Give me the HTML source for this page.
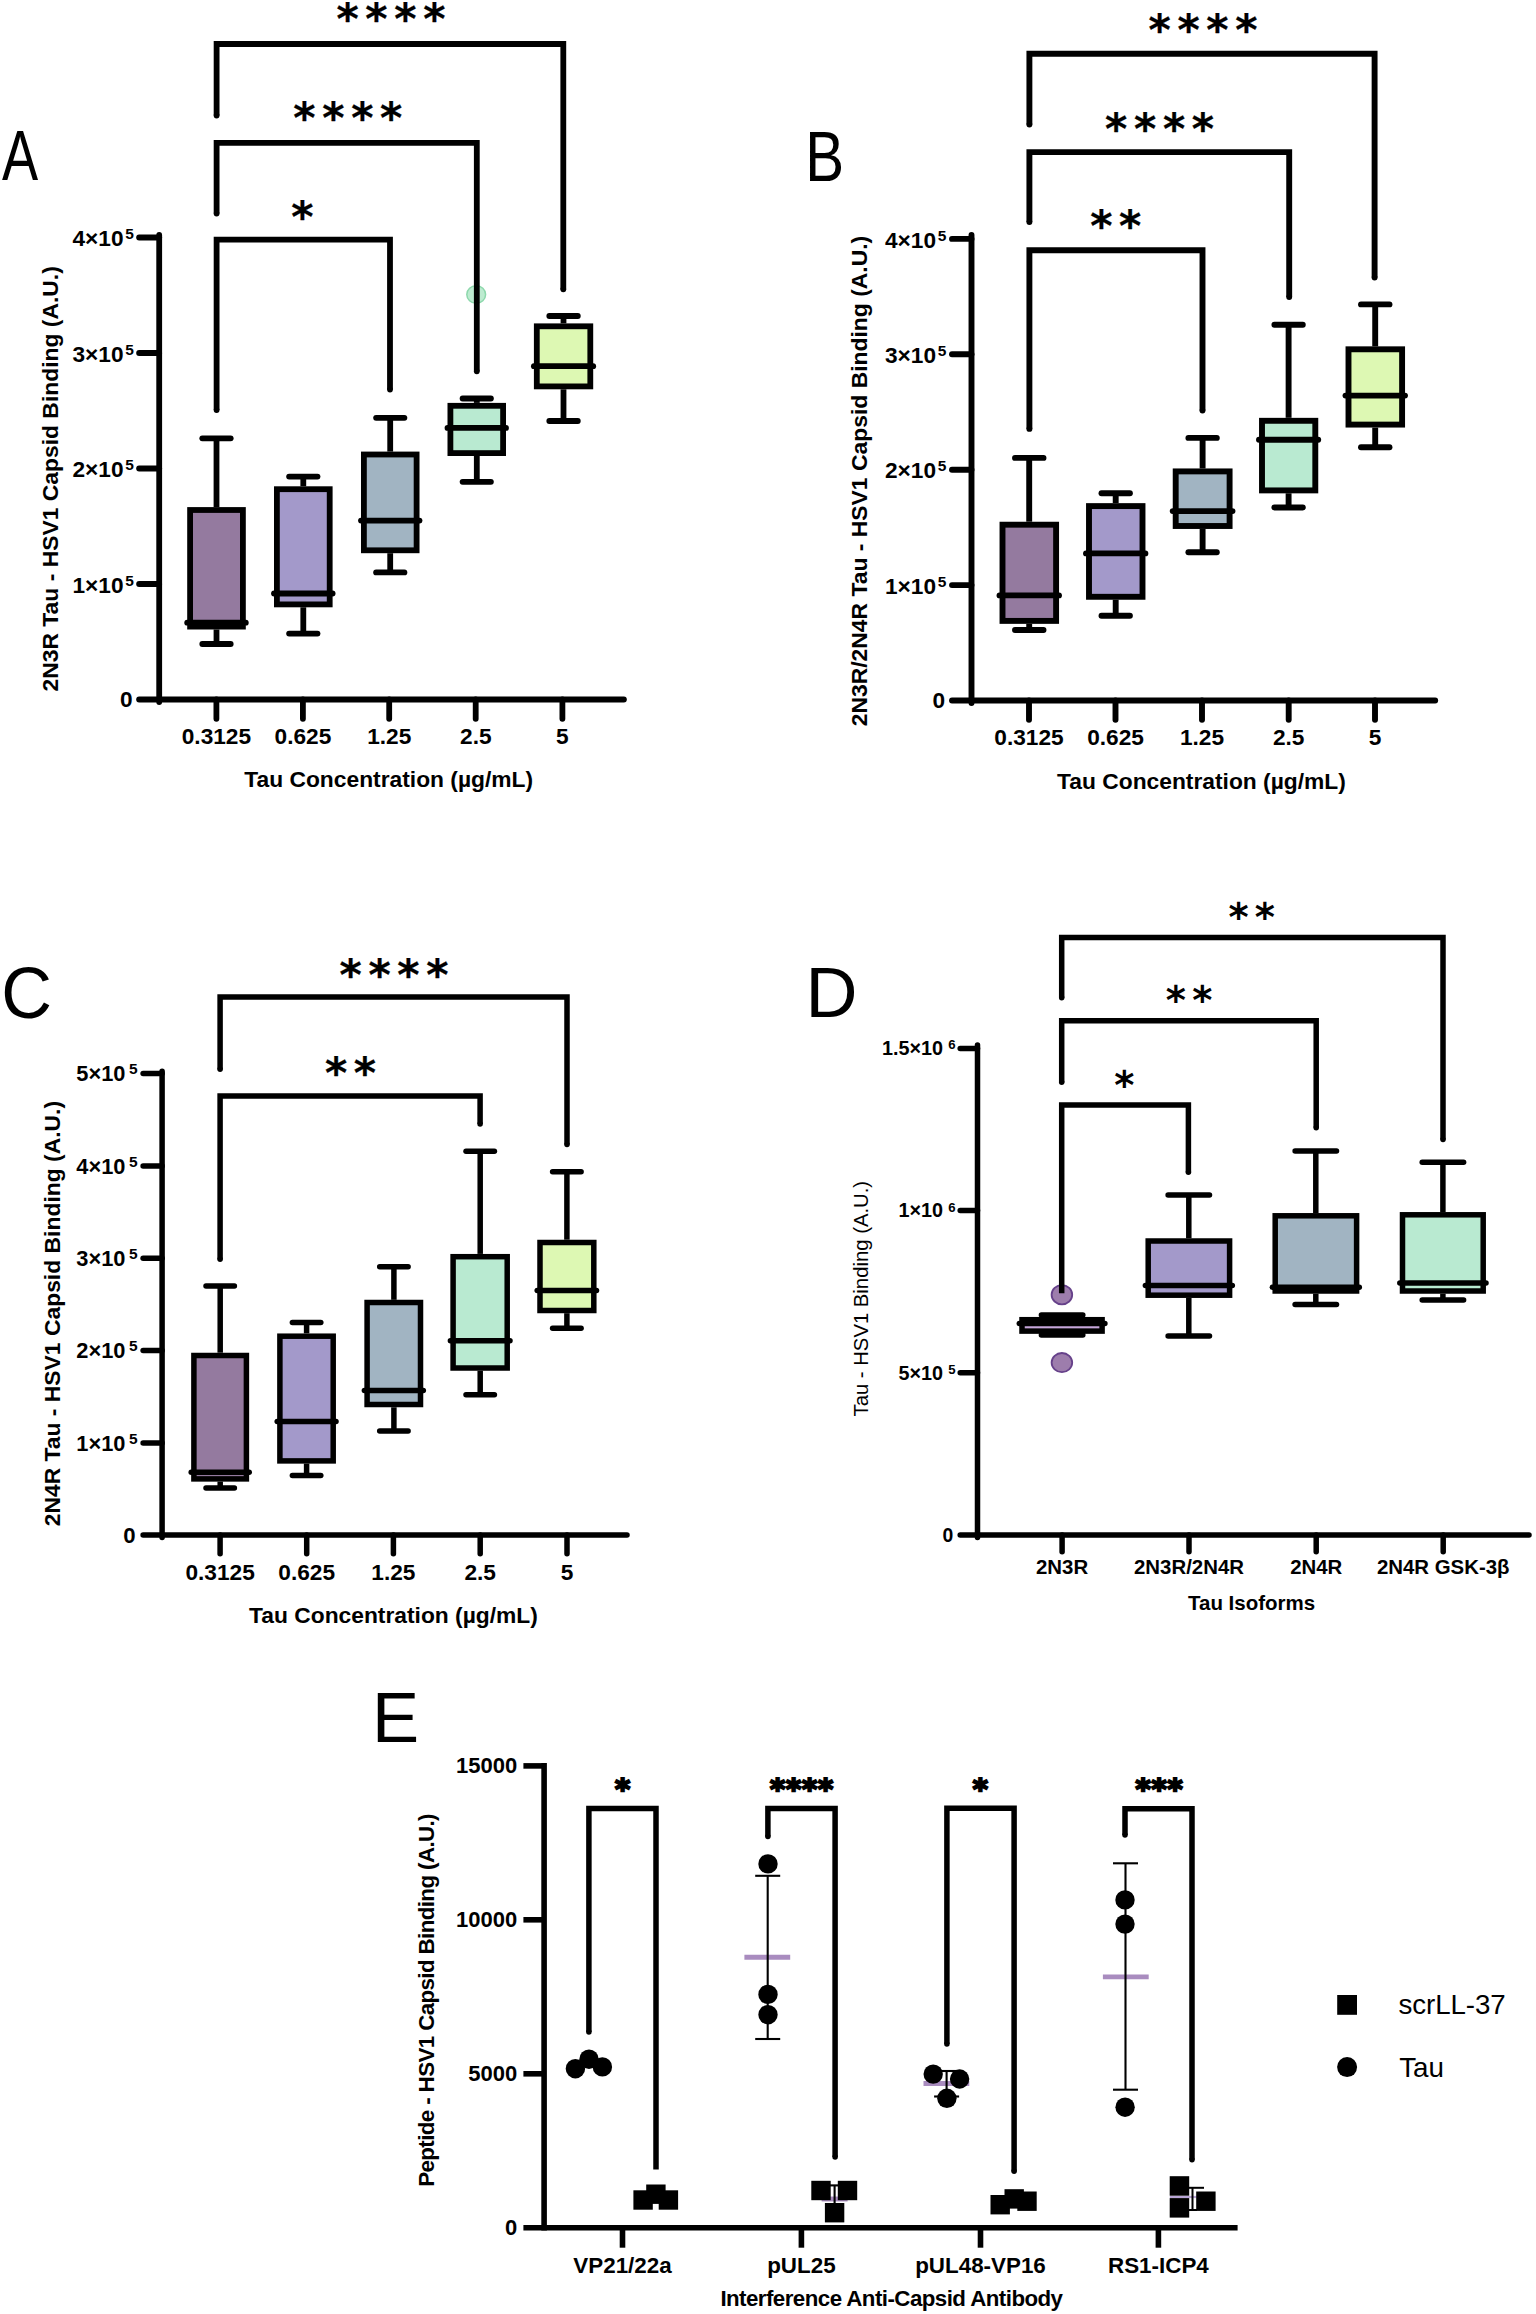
<!DOCTYPE html>
<html lang="en"><head><meta charset="utf-8"><title>Tau - HSV1 capsid binding figure</title>
<style>html,body{margin:0;padding:0;background:#fff}svg{display:block}text{fill:#000}</style></head>
<body><svg width="1536" height="2314" viewBox="0 0 1536 2314">
<rect width="1536" height="2314" fill="#fff"/>
<line x1="159.2" y1="235.0" x2="159.2" y2="702.0" stroke="#000" stroke-width="5.8" stroke-linecap="round"/>
<line x1="139.1" y1="699.5" x2="623.9" y2="699.5" stroke="#000" stroke-width="5.8" stroke-linecap="round"/>
<line x1="139.1" y1="584.0" x2="159.2" y2="584.0" stroke="#000" stroke-width="5.8" stroke-linecap="round"/>
<line x1="139.1" y1="468.5" x2="159.2" y2="468.5" stroke="#000" stroke-width="5.8" stroke-linecap="round"/>
<line x1="139.1" y1="353.0" x2="159.2" y2="353.0" stroke="#000" stroke-width="5.8" stroke-linecap="round"/>
<line x1="139.1" y1="237.5" x2="159.2" y2="237.5" stroke="#000" stroke-width="5.8" stroke-linecap="round"/>
<line x1="216.4" y1="699.5" x2="216.4" y2="718.8" stroke="#000" stroke-width="5.8" stroke-linecap="round"/>
<line x1="302.9" y1="699.5" x2="302.9" y2="718.8" stroke="#000" stroke-width="5.8" stroke-linecap="round"/>
<line x1="389.2" y1="699.5" x2="389.2" y2="718.8" stroke="#000" stroke-width="5.8" stroke-linecap="round"/>
<line x1="475.7" y1="699.5" x2="475.7" y2="718.8" stroke="#000" stroke-width="5.8" stroke-linecap="round"/>
<line x1="562.4" y1="699.5" x2="562.4" y2="718.8" stroke="#000" stroke-width="5.8" stroke-linecap="round"/>
<ellipse cx="476.2" cy="294.5" rx="9.4" ry="8.8" fill="#bdebd0" stroke="#8dd8ac" stroke-width="1.5"/>
<path d="M216.6 115.5V44.0H563.3V289.3" fill="none" stroke="#000" stroke-width="5.8" stroke-linecap="butt" stroke-linejoin="miter"/>
<circle cx="216.6" cy="115.5" r="2.9" fill="#000"/>
<circle cx="563.3" cy="289.3" r="2.9" fill="#000"/>
<path d="M216.6 213.6V142.9H476.8V371.3" fill="none" stroke="#000" stroke-width="5.8" stroke-linecap="butt" stroke-linejoin="miter"/>
<circle cx="216.6" cy="213.6" r="2.9" fill="#000"/>
<circle cx="476.8" cy="371.3" r="2.9" fill="#000"/>
<path d="M216.6 410.1V239.6H390.0V389.6" fill="none" stroke="#000" stroke-width="5.8" stroke-linecap="butt" stroke-linejoin="miter"/>
<circle cx="216.6" cy="410.1" r="2.9" fill="#000"/>
<circle cx="390.0" cy="389.6" r="2.9" fill="#000"/>
<line x1="216.5" y1="438.3" x2="216.5" y2="507.1" stroke="#000" stroke-width="5.8" stroke-linecap="butt"/>
<line x1="216.5" y1="629.5" x2="216.5" y2="644.0" stroke="#000" stroke-width="5.8" stroke-linecap="butt"/>
<line x1="202.3" y1="438.3" x2="230.7" y2="438.3" stroke="#000" stroke-width="5.8" stroke-linecap="round"/>
<line x1="202.3" y1="644.0" x2="230.7" y2="644.0" stroke="#000" stroke-width="5.8" stroke-linecap="round"/>
<rect x="190.1" y="510.0" width="52.8" height="116.6" fill="#947a9f" stroke="#000" stroke-width="5.8"/>
<line x1="187.2" y1="622.7" x2="245.8" y2="622.7" stroke="#000" stroke-width="5.8" stroke-linecap="round"/>
<line x1="303.3" y1="476.6" x2="303.3" y2="486.3" stroke="#000" stroke-width="5.8" stroke-linecap="butt"/>
<line x1="303.3" y1="607.3" x2="303.3" y2="633.6" stroke="#000" stroke-width="5.8" stroke-linecap="butt"/>
<line x1="289.1" y1="476.6" x2="317.5" y2="476.6" stroke="#000" stroke-width="5.8" stroke-linecap="round"/>
<line x1="289.1" y1="633.6" x2="317.5" y2="633.6" stroke="#000" stroke-width="5.8" stroke-linecap="round"/>
<rect x="276.9" y="489.2" width="52.8" height="115.2" fill="#a399ca" stroke="#000" stroke-width="5.8"/>
<line x1="274.0" y1="593.5" x2="332.6" y2="593.5" stroke="#000" stroke-width="5.8" stroke-linecap="round"/>
<line x1="390.2" y1="417.8" x2="390.2" y2="451.6" stroke="#000" stroke-width="5.8" stroke-linecap="butt"/>
<line x1="390.2" y1="553.2" x2="390.2" y2="572.4" stroke="#000" stroke-width="5.8" stroke-linecap="butt"/>
<line x1="376.1" y1="417.8" x2="404.4" y2="417.8" stroke="#000" stroke-width="5.8" stroke-linecap="round"/>
<line x1="376.1" y1="572.4" x2="404.4" y2="572.4" stroke="#000" stroke-width="5.8" stroke-linecap="round"/>
<rect x="363.9" y="454.5" width="52.7" height="95.8" fill="#a1b4c2" stroke="#000" stroke-width="5.8"/>
<line x1="361.0" y1="520.6" x2="419.5" y2="520.6" stroke="#000" stroke-width="5.8" stroke-linecap="round"/>
<line x1="476.8" y1="398.5" x2="476.8" y2="402.9" stroke="#000" stroke-width="5.8" stroke-linecap="butt"/>
<line x1="476.8" y1="456.0" x2="476.8" y2="481.8" stroke="#000" stroke-width="5.8" stroke-linecap="butt"/>
<line x1="462.6" y1="398.5" x2="490.9" y2="398.5" stroke="#000" stroke-width="5.8" stroke-linecap="round"/>
<line x1="462.6" y1="481.8" x2="490.9" y2="481.8" stroke="#000" stroke-width="5.8" stroke-linecap="round"/>
<rect x="450.4" y="405.8" width="52.7" height="47.3" fill="#b9ead1" stroke="#000" stroke-width="5.8"/>
<line x1="447.5" y1="427.9" x2="506.0" y2="427.9" stroke="#000" stroke-width="5.8" stroke-linecap="round"/>
<line x1="563.5" y1="316.0" x2="563.5" y2="323.4" stroke="#000" stroke-width="5.8" stroke-linecap="butt"/>
<line x1="563.5" y1="389.3" x2="563.5" y2="421.0" stroke="#000" stroke-width="5.8" stroke-linecap="butt"/>
<line x1="549.3" y1="316.0" x2="577.8" y2="316.0" stroke="#000" stroke-width="5.8" stroke-linecap="round"/>
<line x1="549.3" y1="421.0" x2="577.8" y2="421.0" stroke="#000" stroke-width="5.8" stroke-linecap="round"/>
<rect x="536.8" y="326.3" width="53.5" height="60.1" fill="#ddf8b3" stroke="#000" stroke-width="5.8"/>
<line x1="533.9" y1="366.2" x2="593.2" y2="366.2" stroke="#000" stroke-width="5.8" stroke-linecap="round"/>
<text x="336.4" y="34.3" font-family="'DejaVu Sans', sans-serif" font-size="42.5" font-weight="bold" letter-spacing="6.7" stroke="#000" stroke-width="0.3" stroke-linejoin="round">****</text>
<text x="293.3" y="132.6" font-family="'DejaVu Sans', sans-serif" font-size="42.5" font-weight="bold" letter-spacing="6.7" stroke="#000" stroke-width="0.3" stroke-linejoin="round">****</text>
<text x="291.2" y="231.5" font-family="'DejaVu Sans', sans-serif" font-size="42.5" font-weight="bold" letter-spacing="6.7" stroke="#000" stroke-width="0.3" stroke-linejoin="round">*</text>
<text x="133.8" y="246.2" font-family="'Liberation Sans', sans-serif" font-size="22.67" font-weight="bold" text-anchor="end" letter-spacing="0">4×10<tspan font-size="15.5" dy="-7.1" dx="1.6">5</tspan></text>
<text x="133.8" y="361.7" font-family="'Liberation Sans', sans-serif" font-size="22.67" font-weight="bold" text-anchor="end" letter-spacing="0">3×10<tspan font-size="15.5" dy="-7.1" dx="1.6">5</tspan></text>
<text x="133.8" y="477.2" font-family="'Liberation Sans', sans-serif" font-size="22.67" font-weight="bold" text-anchor="end" letter-spacing="0">2×10<tspan font-size="15.5" dy="-7.1" dx="1.6">5</tspan></text>
<text x="133.8" y="592.7" font-family="'Liberation Sans', sans-serif" font-size="22.67" font-weight="bold" text-anchor="end" letter-spacing="0">1×10<tspan font-size="15.5" dy="-7.1" dx="1.6">5</tspan></text>
<text x="132.5" y="707.0" font-family="'Liberation Sans', sans-serif" font-size="22.67" font-weight="bold" text-anchor="end">0</text>
<text x="216.4" y="743.8" font-family="'Liberation Sans', sans-serif" font-size="22.67" font-weight="bold" text-anchor="middle">0.3125</text>
<text x="302.9" y="743.8" font-family="'Liberation Sans', sans-serif" font-size="22.67" font-weight="bold" text-anchor="middle">0.625</text>
<text x="389.2" y="743.8" font-family="'Liberation Sans', sans-serif" font-size="22.67" font-weight="bold" text-anchor="middle">1.25</text>
<text x="475.8" y="743.8" font-family="'Liberation Sans', sans-serif" font-size="22.67" font-weight="bold" text-anchor="middle">2.5</text>
<text x="562.3" y="743.8" font-family="'Liberation Sans', sans-serif" font-size="22.67" font-weight="bold" text-anchor="middle">5</text>
<text x="388.7" y="787.3" font-family="'Liberation Sans', sans-serif" font-size="22.8" font-weight="bold" text-anchor="middle">Tau Concentration (µg/mL)</text>
<text x="57.9" y="691.5" font-family="'Liberation Sans', sans-serif" font-size="22.88" font-weight="bold" text-anchor="start" transform="rotate(-90 57.9 691.5)">2N3R Tau - HSV1 Capsid Binding (A.U.)</text>
<line x1="971.5" y1="235.0" x2="971.5" y2="703.0" stroke="#000" stroke-width="5.9" stroke-linecap="round"/>
<line x1="952.0" y1="700.5" x2="1435.2" y2="700.5" stroke="#000" stroke-width="5.9" stroke-linecap="round"/>
<line x1="952.0" y1="585.1" x2="971.5" y2="585.1" stroke="#000" stroke-width="5.9" stroke-linecap="round"/>
<line x1="952.0" y1="469.7" x2="971.5" y2="469.7" stroke="#000" stroke-width="5.9" stroke-linecap="round"/>
<line x1="952.0" y1="354.3" x2="971.5" y2="354.3" stroke="#000" stroke-width="5.9" stroke-linecap="round"/>
<line x1="952.0" y1="238.9" x2="971.5" y2="238.9" stroke="#000" stroke-width="5.9" stroke-linecap="round"/>
<line x1="1029.0" y1="700.5" x2="1029.0" y2="719.8" stroke="#000" stroke-width="5.9" stroke-linecap="round"/>
<line x1="1115.5" y1="700.5" x2="1115.5" y2="719.8" stroke="#000" stroke-width="5.9" stroke-linecap="round"/>
<line x1="1202.0" y1="700.5" x2="1202.0" y2="719.8" stroke="#000" stroke-width="5.9" stroke-linecap="round"/>
<line x1="1288.7" y1="700.5" x2="1288.7" y2="719.8" stroke="#000" stroke-width="5.9" stroke-linecap="round"/>
<line x1="1375.0" y1="700.5" x2="1375.0" y2="719.8" stroke="#000" stroke-width="5.9" stroke-linecap="round"/>
<path d="M1029.4 124.6V53.8H1374.6V277.6" fill="none" stroke="#000" stroke-width="5.9" stroke-linecap="butt" stroke-linejoin="miter"/>
<circle cx="1029.4" cy="124.6" r="2.95" fill="#000"/>
<circle cx="1374.6" cy="277.6" r="2.95" fill="#000"/>
<path d="M1029.4 222.1V152.1H1289.2V297.1" fill="none" stroke="#000" stroke-width="5.9" stroke-linecap="butt" stroke-linejoin="miter"/>
<circle cx="1029.4" cy="222.1" r="2.95" fill="#000"/>
<circle cx="1289.2" cy="297.1" r="2.95" fill="#000"/>
<path d="M1029.4 428.9V250.3H1202.5V410.6" fill="none" stroke="#000" stroke-width="5.9" stroke-linecap="butt" stroke-linejoin="miter"/>
<circle cx="1029.4" cy="428.9" r="2.95" fill="#000"/>
<circle cx="1202.5" cy="410.6" r="2.95" fill="#000"/>
<line x1="1029.2" y1="457.9" x2="1029.2" y2="521.7" stroke="#000" stroke-width="5.9" stroke-linecap="butt"/>
<line x1="1029.2" y1="623.8" x2="1029.2" y2="630.0" stroke="#000" stroke-width="5.9" stroke-linecap="butt"/>
<line x1="1015.0" y1="457.9" x2="1043.5" y2="457.9" stroke="#000" stroke-width="5.9" stroke-linecap="round"/>
<line x1="1015.0" y1="630.0" x2="1043.5" y2="630.0" stroke="#000" stroke-width="5.9" stroke-linecap="round"/>
<rect x="1002.5" y="524.7" width="53.6" height="96.2" fill="#947a9f" stroke="#000" stroke-width="5.9"/>
<line x1="999.5" y1="595.4" x2="1059.0" y2="595.4" stroke="#000" stroke-width="5.9" stroke-linecap="round"/>
<line x1="1115.7" y1="493.3" x2="1115.7" y2="503.1" stroke="#000" stroke-width="5.9" stroke-linecap="butt"/>
<line x1="1115.7" y1="599.7" x2="1115.7" y2="615.8" stroke="#000" stroke-width="5.9" stroke-linecap="butt"/>
<line x1="1101.5" y1="493.3" x2="1129.9" y2="493.3" stroke="#000" stroke-width="5.9" stroke-linecap="round"/>
<line x1="1101.5" y1="615.8" x2="1129.9" y2="615.8" stroke="#000" stroke-width="5.9" stroke-linecap="round"/>
<rect x="1089.0" y="506.1" width="53.5" height="90.7" fill="#a399ca" stroke="#000" stroke-width="5.9"/>
<line x1="1086.0" y1="553.4" x2="1145.4" y2="553.4" stroke="#000" stroke-width="5.9" stroke-linecap="round"/>
<line x1="1202.6" y1="437.9" x2="1202.6" y2="468.5" stroke="#000" stroke-width="5.9" stroke-linecap="butt"/>
<line x1="1202.6" y1="529.0" x2="1202.6" y2="552.3" stroke="#000" stroke-width="5.9" stroke-linecap="butt"/>
<line x1="1188.4" y1="437.9" x2="1216.8" y2="437.9" stroke="#000" stroke-width="5.9" stroke-linecap="round"/>
<line x1="1188.4" y1="552.3" x2="1216.8" y2="552.3" stroke="#000" stroke-width="5.9" stroke-linecap="round"/>
<rect x="1175.7" y="471.4" width="53.9" height="54.6" fill="#a1b4c2" stroke="#000" stroke-width="5.9"/>
<line x1="1172.7" y1="511.1" x2="1232.5" y2="511.1" stroke="#000" stroke-width="5.9" stroke-linecap="round"/>
<line x1="1288.6" y1="324.8" x2="1288.6" y2="417.8" stroke="#000" stroke-width="5.9" stroke-linecap="butt"/>
<line x1="1288.6" y1="493.3" x2="1288.6" y2="507.5" stroke="#000" stroke-width="5.9" stroke-linecap="butt"/>
<line x1="1274.4" y1="324.8" x2="1302.8" y2="324.8" stroke="#000" stroke-width="5.9" stroke-linecap="round"/>
<line x1="1274.4" y1="507.5" x2="1302.8" y2="507.5" stroke="#000" stroke-width="5.9" stroke-linecap="round"/>
<rect x="1262.0" y="420.8" width="53.3" height="69.6" fill="#b9ead1" stroke="#000" stroke-width="5.9"/>
<line x1="1259.0" y1="439.7" x2="1318.2" y2="439.7" stroke="#000" stroke-width="5.9" stroke-linecap="round"/>
<line x1="1375.2" y1="304.4" x2="1375.2" y2="346.4" stroke="#000" stroke-width="5.9" stroke-linecap="butt"/>
<line x1="1375.2" y1="427.6" x2="1375.2" y2="447.3" stroke="#000" stroke-width="5.9" stroke-linecap="butt"/>
<line x1="1361.0" y1="304.4" x2="1389.5" y2="304.4" stroke="#000" stroke-width="5.9" stroke-linecap="round"/>
<line x1="1361.0" y1="447.3" x2="1389.5" y2="447.3" stroke="#000" stroke-width="5.9" stroke-linecap="round"/>
<rect x="1348.5" y="349.3" width="53.6" height="75.3" fill="#ddf8b3" stroke="#000" stroke-width="5.9"/>
<line x1="1345.5" y1="395.6" x2="1405.0" y2="395.6" stroke="#000" stroke-width="5.9" stroke-linecap="round"/>
<text x="1148.5" y="45.3" font-family="'DejaVu Sans', sans-serif" font-size="42.5" font-weight="bold" letter-spacing="6.7" stroke="#000" stroke-width="0.3" stroke-linejoin="round">****</text>
<text x="1105.1" y="143.8" font-family="'DejaVu Sans', sans-serif" font-size="42.5" font-weight="bold" letter-spacing="6.7" stroke="#000" stroke-width="0.3" stroke-linejoin="round">****</text>
<text x="1090.2" y="240.8" font-family="'DejaVu Sans', sans-serif" font-size="42.5" font-weight="bold" letter-spacing="6.7" stroke="#000" stroke-width="0.3" stroke-linejoin="round">**</text>
<text x="946.3" y="247.6" font-family="'Liberation Sans', sans-serif" font-size="22.67" font-weight="bold" text-anchor="end" letter-spacing="0">4×10<tspan font-size="15.5" dy="-7.1" dx="1.6">5</tspan></text>
<text x="946.3" y="363.0" font-family="'Liberation Sans', sans-serif" font-size="22.67" font-weight="bold" text-anchor="end" letter-spacing="0">3×10<tspan font-size="15.5" dy="-7.1" dx="1.6">5</tspan></text>
<text x="946.3" y="478.4" font-family="'Liberation Sans', sans-serif" font-size="22.67" font-weight="bold" text-anchor="end" letter-spacing="0">2×10<tspan font-size="15.5" dy="-7.1" dx="1.6">5</tspan></text>
<text x="946.3" y="593.8" font-family="'Liberation Sans', sans-serif" font-size="22.67" font-weight="bold" text-anchor="end" letter-spacing="0">1×10<tspan font-size="15.5" dy="-7.1" dx="1.6">5</tspan></text>
<text x="945.0" y="707.9" font-family="'Liberation Sans', sans-serif" font-size="22.67" font-weight="bold" text-anchor="end">0</text>
<text x="1029.0" y="744.8" font-family="'Liberation Sans', sans-serif" font-size="22.67" font-weight="bold" text-anchor="middle">0.3125</text>
<text x="1115.5" y="744.8" font-family="'Liberation Sans', sans-serif" font-size="22.67" font-weight="bold" text-anchor="middle">0.625</text>
<text x="1202.0" y="744.8" font-family="'Liberation Sans', sans-serif" font-size="22.67" font-weight="bold" text-anchor="middle">1.25</text>
<text x="1288.7" y="744.8" font-family="'Liberation Sans', sans-serif" font-size="22.67" font-weight="bold" text-anchor="middle">2.5</text>
<text x="1375.0" y="744.8" font-family="'Liberation Sans', sans-serif" font-size="22.67" font-weight="bold" text-anchor="middle">5</text>
<text x="1201.5" y="788.6" font-family="'Liberation Sans', sans-serif" font-size="22.8" font-weight="bold" text-anchor="middle">Tau Concentration (µg/mL)</text>
<text x="866.9" y="726.3" font-family="'Liberation Sans', sans-serif" font-size="22.9" font-weight="bold" text-anchor="start" transform="rotate(-90 866.9 726.3)">2N3R/2N4R Tau - HSV1 Capsid Binding (A.U.)</text>
<line x1="162.1" y1="1071.2" x2="162.1" y2="1537.4" stroke="#000" stroke-width="5.5" stroke-linecap="round"/>
<line x1="143.1" y1="1534.9" x2="627.0" y2="1534.9" stroke="#000" stroke-width="5.5" stroke-linecap="round"/>
<line x1="143.1" y1="1443.0" x2="162.1" y2="1443.0" stroke="#000" stroke-width="5.5" stroke-linecap="round"/>
<line x1="143.1" y1="1350.6" x2="162.1" y2="1350.6" stroke="#000" stroke-width="5.5" stroke-linecap="round"/>
<line x1="143.1" y1="1258.3" x2="162.1" y2="1258.3" stroke="#000" stroke-width="5.5" stroke-linecap="round"/>
<line x1="143.1" y1="1166.0" x2="162.1" y2="1166.0" stroke="#000" stroke-width="5.5" stroke-linecap="round"/>
<line x1="143.1" y1="1073.6" x2="162.1" y2="1073.6" stroke="#000" stroke-width="5.5" stroke-linecap="round"/>
<line x1="220.1" y1="1534.9" x2="220.1" y2="1553.8" stroke="#000" stroke-width="5.5" stroke-linecap="round"/>
<line x1="306.7" y1="1534.9" x2="306.7" y2="1553.8" stroke="#000" stroke-width="5.5" stroke-linecap="round"/>
<line x1="393.4" y1="1534.9" x2="393.4" y2="1553.8" stroke="#000" stroke-width="5.5" stroke-linecap="round"/>
<line x1="480.2" y1="1534.9" x2="480.2" y2="1553.8" stroke="#000" stroke-width="5.5" stroke-linecap="round"/>
<line x1="567.0" y1="1534.9" x2="567.0" y2="1553.8" stroke="#000" stroke-width="5.5" stroke-linecap="round"/>
<path d="M220.1 1069.2V997.0H567.0V1144.6" fill="none" stroke="#000" stroke-width="5.5" stroke-linecap="butt" stroke-linejoin="miter"/>
<circle cx="220.1" cy="1069.2" r="2.75" fill="#000"/>
<circle cx="567.0" cy="1144.6" r="2.75" fill="#000"/>
<path d="M220.1 1259.3V1095.9H480.1V1123.9" fill="none" stroke="#000" stroke-width="5.5" stroke-linecap="butt" stroke-linejoin="miter"/>
<circle cx="220.1" cy="1259.3" r="2.75" fill="#000"/>
<circle cx="480.1" cy="1123.9" r="2.75" fill="#000"/>
<line x1="220.2" y1="1286.0" x2="220.2" y2="1352.7" stroke="#000" stroke-width="5.5" stroke-linecap="butt"/>
<line x1="220.2" y1="1481.6" x2="220.2" y2="1488.0" stroke="#000" stroke-width="5.5" stroke-linecap="butt"/>
<line x1="206.0" y1="1286.0" x2="234.4" y2="1286.0" stroke="#000" stroke-width="5.5" stroke-linecap="round"/>
<line x1="206.0" y1="1488.0" x2="234.4" y2="1488.0" stroke="#000" stroke-width="5.5" stroke-linecap="round"/>
<rect x="193.9" y="1355.5" width="52.5" height="123.4" fill="#947a9f" stroke="#000" stroke-width="5.5"/>
<line x1="191.2" y1="1472.2" x2="249.2" y2="1472.2" stroke="#000" stroke-width="5.5" stroke-linecap="round"/>
<line x1="306.6" y1="1322.6" x2="306.6" y2="1333.4" stroke="#000" stroke-width="5.5" stroke-linecap="butt"/>
<line x1="306.6" y1="1463.6" x2="306.6" y2="1475.6" stroke="#000" stroke-width="5.5" stroke-linecap="butt"/>
<line x1="292.4" y1="1322.6" x2="320.8" y2="1322.6" stroke="#000" stroke-width="5.5" stroke-linecap="round"/>
<line x1="292.4" y1="1475.6" x2="320.8" y2="1475.6" stroke="#000" stroke-width="5.5" stroke-linecap="round"/>
<rect x="279.9" y="1336.2" width="53.3" height="124.7" fill="#a399ca" stroke="#000" stroke-width="5.5"/>
<line x1="277.2" y1="1421.5" x2="336.0" y2="1421.5" stroke="#000" stroke-width="5.5" stroke-linecap="round"/>
<line x1="393.9" y1="1266.8" x2="393.9" y2="1299.8" stroke="#000" stroke-width="5.5" stroke-linecap="butt"/>
<line x1="393.9" y1="1407.3" x2="393.9" y2="1430.9" stroke="#000" stroke-width="5.5" stroke-linecap="butt"/>
<line x1="379.7" y1="1266.8" x2="408.1" y2="1266.8" stroke="#000" stroke-width="5.5" stroke-linecap="round"/>
<line x1="379.7" y1="1430.9" x2="408.1" y2="1430.9" stroke="#000" stroke-width="5.5" stroke-linecap="round"/>
<rect x="367.1" y="1302.5" width="53.4" height="102.0" fill="#a1b4c2" stroke="#000" stroke-width="5.5"/>
<line x1="364.4" y1="1390.5" x2="423.3" y2="1390.5" stroke="#000" stroke-width="5.5" stroke-linecap="round"/>
<line x1="480.2" y1="1151.2" x2="480.2" y2="1253.9" stroke="#000" stroke-width="5.5" stroke-linecap="butt"/>
<line x1="480.2" y1="1370.7" x2="480.2" y2="1394.8" stroke="#000" stroke-width="5.5" stroke-linecap="butt"/>
<line x1="466.0" y1="1151.2" x2="494.4" y2="1151.2" stroke="#000" stroke-width="5.5" stroke-linecap="round"/>
<line x1="466.0" y1="1394.8" x2="494.4" y2="1394.8" stroke="#000" stroke-width="5.5" stroke-linecap="round"/>
<rect x="453.1" y="1256.7" width="54.1" height="111.3" fill="#b9ead1" stroke="#000" stroke-width="5.5"/>
<line x1="450.4" y1="1340.7" x2="510.0" y2="1340.7" stroke="#000" stroke-width="5.5" stroke-linecap="round"/>
<line x1="566.9" y1="1171.8" x2="566.9" y2="1239.7" stroke="#000" stroke-width="5.5" stroke-linecap="butt"/>
<line x1="566.9" y1="1313.2" x2="566.9" y2="1328.2" stroke="#000" stroke-width="5.5" stroke-linecap="butt"/>
<line x1="552.6" y1="1171.8" x2="581.1" y2="1171.8" stroke="#000" stroke-width="5.5" stroke-linecap="round"/>
<line x1="552.6" y1="1328.2" x2="581.1" y2="1328.2" stroke="#000" stroke-width="5.5" stroke-linecap="round"/>
<rect x="540.0" y="1242.5" width="53.8" height="68.0" fill="#ddf8b3" stroke="#000" stroke-width="5.5"/>
<line x1="537.2" y1="1290.4" x2="596.5" y2="1290.4" stroke="#000" stroke-width="5.5" stroke-linecap="round"/>
<text x="339.5" y="989.7" font-family="'DejaVu Sans', sans-serif" font-size="42.5" font-weight="bold" letter-spacing="6.7" stroke="#000" stroke-width="0.3" stroke-linejoin="round">****</text>
<text x="324.9" y="1087.6" font-family="'DejaVu Sans', sans-serif" font-size="42.5" font-weight="bold" letter-spacing="6.7" stroke="#000" stroke-width="0.3" stroke-linejoin="round">**</text>
<text x="137.5" y="1081.2" font-family="'Liberation Sans', sans-serif" font-size="21.8" font-weight="bold" text-anchor="end" letter-spacing="0">5×10<tspan font-size="15.5" dy="-7.1" dx="3.4">5</tspan></text>
<text x="137.5" y="1173.6" font-family="'Liberation Sans', sans-serif" font-size="21.8" font-weight="bold" text-anchor="end" letter-spacing="0">4×10<tspan font-size="15.5" dy="-7.1" dx="3.4">5</tspan></text>
<text x="137.5" y="1265.9" font-family="'Liberation Sans', sans-serif" font-size="21.8" font-weight="bold" text-anchor="end" letter-spacing="0">3×10<tspan font-size="15.5" dy="-7.1" dx="3.4">5</tspan></text>
<text x="137.5" y="1358.2" font-family="'Liberation Sans', sans-serif" font-size="21.8" font-weight="bold" text-anchor="end" letter-spacing="0">2×10<tspan font-size="15.5" dy="-7.1" dx="3.4">5</tspan></text>
<text x="137.5" y="1450.6" font-family="'Liberation Sans', sans-serif" font-size="21.8" font-weight="bold" text-anchor="end" letter-spacing="0">1×10<tspan font-size="15.5" dy="-7.1" dx="3.4">5</tspan></text>
<text x="135.7" y="1542.8" font-family="'Liberation Sans', sans-serif" font-size="22.2" font-weight="bold" text-anchor="end">0</text>
<text x="220.1" y="1579.5" font-family="'Liberation Sans', sans-serif" font-size="22.67" font-weight="bold" text-anchor="middle">0.3125</text>
<text x="306.7" y="1579.5" font-family="'Liberation Sans', sans-serif" font-size="22.67" font-weight="bold" text-anchor="middle">0.625</text>
<text x="393.4" y="1579.5" font-family="'Liberation Sans', sans-serif" font-size="22.67" font-weight="bold" text-anchor="middle">1.25</text>
<text x="480.2" y="1579.5" font-family="'Liberation Sans', sans-serif" font-size="22.67" font-weight="bold" text-anchor="middle">2.5</text>
<text x="567.0" y="1579.5" font-family="'Liberation Sans', sans-serif" font-size="22.67" font-weight="bold" text-anchor="middle">5</text>
<text x="393.5" y="1622.5" font-family="'Liberation Sans', sans-serif" font-size="22.8" font-weight="bold" text-anchor="middle">Tau Concentration (µg/mL)</text>
<text x="60.2" y="1526.3" font-family="'Liberation Sans', sans-serif" font-size="22.88" font-weight="bold" text-anchor="start" transform="rotate(-90 60.2 1526.3)">2N4R Tau - HSV1 Capsid Binding (A.U.)</text>
<line x1="977.5" y1="1045.0" x2="977.5" y2="1537.4" stroke="#000" stroke-width="5.5" stroke-linecap="round"/>
<line x1="960.2" y1="1534.9" x2="1529.0" y2="1534.9" stroke="#000" stroke-width="5.5" stroke-linecap="round"/>
<line x1="960.2" y1="1372.8" x2="977.5" y2="1372.8" stroke="#000" stroke-width="5.5" stroke-linecap="round"/>
<line x1="960.2" y1="1210.6" x2="977.5" y2="1210.6" stroke="#000" stroke-width="5.5" stroke-linecap="round"/>
<line x1="960.2" y1="1048.4" x2="977.5" y2="1048.4" stroke="#000" stroke-width="5.5" stroke-linecap="round"/>
<line x1="1062.1" y1="1534.9" x2="1062.1" y2="1551.7" stroke="#000" stroke-width="5.5" stroke-linecap="round"/>
<line x1="1189.0" y1="1534.9" x2="1189.0" y2="1551.7" stroke="#000" stroke-width="5.5" stroke-linecap="round"/>
<line x1="1316.2" y1="1534.9" x2="1316.2" y2="1551.7" stroke="#000" stroke-width="5.5" stroke-linecap="round"/>
<line x1="1443.2" y1="1534.9" x2="1443.2" y2="1551.7" stroke="#000" stroke-width="5.5" stroke-linecap="round"/>
<path d="M1061.7 997.7V937.4H1443.0V1139.6" fill="none" stroke="#000" stroke-width="5.5" stroke-linecap="butt" stroke-linejoin="miter"/>
<circle cx="1061.7" cy="997.7" r="2.75" fill="#000"/>
<circle cx="1443.0" cy="1139.6" r="2.75" fill="#000"/>
<path d="M1061.7 1082.3V1020.7H1316.2V1127.8" fill="none" stroke="#000" stroke-width="5.5" stroke-linecap="butt" stroke-linejoin="miter"/>
<circle cx="1061.7" cy="1082.3" r="2.75" fill="#000"/>
<circle cx="1316.2" cy="1127.8" r="2.75" fill="#000"/>
<ellipse cx="1061.9" cy="1294.7" rx="10.3" ry="9.6" fill="#9d7dac" stroke="#66418a" stroke-width="1.8"/>
<ellipse cx="1061.9" cy="1362.6" rx="10.3" ry="9.6" fill="#9d7dac" stroke="#66418a" stroke-width="1.8"/>
<path d="M1061.7 1293.3V1105.1H1188.4V1172.2" fill="none" stroke="#000" stroke-width="5.5" stroke-linecap="butt" stroke-linejoin="miter"/>
<circle cx="1188.4" cy="1172.2" r="2.75" fill="#000"/>
<line x1="1062.1" y1="1315.0" x2="1062.1" y2="1316.9" stroke="#000" stroke-width="5.5" stroke-linecap="butt"/>
<line x1="1062.1" y1="1333.8" x2="1062.1" y2="1335.0" stroke="#000" stroke-width="5.5" stroke-linecap="butt"/>
<line x1="1041.4" y1="1315.0" x2="1082.8" y2="1315.0" stroke="#000" stroke-width="5.5" stroke-linecap="round"/>
<line x1="1041.4" y1="1335.0" x2="1082.8" y2="1335.0" stroke="#000" stroke-width="5.5" stroke-linecap="round"/>
<rect x="1022.0" y="1319.7" width="80.1" height="11.4" fill="#c6a6da" stroke="#000" stroke-width="5.5"/>
<line x1="1019.3" y1="1323.4" x2="1104.9" y2="1323.4" stroke="#000" stroke-width="5.5" stroke-linecap="round"/>
<line x1="1188.8" y1="1194.9" x2="1188.8" y2="1238.3" stroke="#000" stroke-width="5.5" stroke-linecap="butt"/>
<line x1="1188.8" y1="1298.0" x2="1188.8" y2="1336.0" stroke="#000" stroke-width="5.5" stroke-linecap="butt"/>
<line x1="1168.1" y1="1194.9" x2="1209.5" y2="1194.9" stroke="#000" stroke-width="5.5" stroke-linecap="round"/>
<line x1="1168.1" y1="1336.0" x2="1209.5" y2="1336.0" stroke="#000" stroke-width="5.5" stroke-linecap="round"/>
<rect x="1148.2" y="1241.0" width="81.4" height="54.2" fill="#a399ca" stroke="#000" stroke-width="5.5"/>
<line x1="1145.4" y1="1285.4" x2="1232.3" y2="1285.4" stroke="#000" stroke-width="5.5" stroke-linecap="round"/>
<line x1="1315.8" y1="1151.1" x2="1315.8" y2="1213.0" stroke="#000" stroke-width="5.5" stroke-linecap="butt"/>
<line x1="1315.8" y1="1293.7" x2="1315.8" y2="1304.6" stroke="#000" stroke-width="5.5" stroke-linecap="butt"/>
<line x1="1295.1" y1="1151.1" x2="1336.5" y2="1151.1" stroke="#000" stroke-width="5.5" stroke-linecap="round"/>
<line x1="1295.1" y1="1304.6" x2="1336.5" y2="1304.6" stroke="#000" stroke-width="5.5" stroke-linecap="round"/>
<rect x="1275.2" y="1215.8" width="81.4" height="75.2" fill="#a1b4c2" stroke="#000" stroke-width="5.5"/>
<line x1="1272.4" y1="1287.2" x2="1359.3" y2="1287.2" stroke="#000" stroke-width="5.5" stroke-linecap="round"/>
<line x1="1442.9" y1="1162.3" x2="1442.9" y2="1212.0" stroke="#000" stroke-width="5.5" stroke-linecap="butt"/>
<line x1="1442.9" y1="1293.7" x2="1442.9" y2="1299.9" stroke="#000" stroke-width="5.5" stroke-linecap="butt"/>
<line x1="1422.2" y1="1162.3" x2="1463.6" y2="1162.3" stroke="#000" stroke-width="5.5" stroke-linecap="round"/>
<line x1="1422.2" y1="1299.9" x2="1463.6" y2="1299.9" stroke="#000" stroke-width="5.5" stroke-linecap="round"/>
<rect x="1402.5" y="1214.8" width="80.7" height="76.2" fill="#b9ead1" stroke="#000" stroke-width="5.5"/>
<line x1="1399.8" y1="1282.9" x2="1486.0" y2="1282.9" stroke="#000" stroke-width="5.5" stroke-linecap="round"/>
<text x="1228.5" y="930.9" font-family="'DejaVu Sans', sans-serif" font-size="38.5" font-weight="bold" letter-spacing="6.2" >**</text>
<text x="1165.8" y="1014.3" font-family="'DejaVu Sans', sans-serif" font-size="38.5" font-weight="bold" letter-spacing="6.2" >**</text>
<text x="1114.2" y="1098.7" font-family="'DejaVu Sans', sans-serif" font-size="38.5" font-weight="bold" letter-spacing="6.7" >*</text>
<text x="955.6" y="1055.1" font-family="'Liberation Sans', sans-serif" font-size="19.8" font-weight="bold" text-anchor="end" letter-spacing="0">1.5×10<tspan font-size="13.2" dy="-5.7" dx="5.2">6</tspan></text>
<text x="955.6" y="1217.3" font-family="'Liberation Sans', sans-serif" font-size="19.8" font-weight="bold" text-anchor="end" letter-spacing="0">1×10<tspan font-size="13.2" dy="-5.7" dx="5.2">6</tspan></text>
<text x="955.6" y="1379.5" font-family="'Liberation Sans', sans-serif" font-size="19.8" font-weight="bold" text-anchor="end" letter-spacing="0">5×10<tspan font-size="13.2" dy="-5.7" dx="5.2">5</tspan></text>
<text x="953.3" y="1542.0" font-family="'Liberation Sans', sans-serif" font-size="19.4" font-weight="bold" text-anchor="end">0</text>
<text x="1062.1" y="1573.6" font-family="'Liberation Sans', sans-serif" font-size="20.4" font-weight="bold" text-anchor="middle">2N3R</text>
<text x="1189.0" y="1573.6" font-family="'Liberation Sans', sans-serif" font-size="20.4" font-weight="bold" text-anchor="middle">2N3R/2N4R</text>
<text x="1316.2" y="1573.6" font-family="'Liberation Sans', sans-serif" font-size="20.4" font-weight="bold" text-anchor="middle">2N4R</text>
<text x="1443.2" y="1573.6" font-family="'Liberation Sans', sans-serif" font-size="20.4" font-weight="bold" text-anchor="middle">2N4R GSK-3β</text>
<text x="1251.6" y="1610.2" font-family="'Liberation Sans', sans-serif" font-size="20.5" font-weight="bold" text-anchor="middle">Tau Isoforms</text>
<text x="868.0" y="1416.5" font-family="'Liberation Sans', sans-serif" font-size="20.3" font-weight="normal" text-anchor="start" transform="rotate(-90 868.0 1416.5)">Tau - HSV1 Binding (A.U.)</text>
<line x1="544.1" y1="1763.1" x2="544.1" y2="2230.6" stroke="#000" stroke-width="5.6" stroke-linecap="butt"/>
<line x1="523.4" y1="2227.8" x2="1237.6" y2="2227.8" stroke="#000" stroke-width="5.6" stroke-linecap="butt"/>
<line x1="523.4" y1="2073.8" x2="544.1" y2="2073.8" stroke="#000" stroke-width="5.6" stroke-linecap="butt"/>
<line x1="523.4" y1="1919.8" x2="544.1" y2="1919.8" stroke="#000" stroke-width="5.6" stroke-linecap="butt"/>
<line x1="523.4" y1="1765.9" x2="544.1" y2="1765.9" stroke="#000" stroke-width="5.6" stroke-linecap="butt"/>
<line x1="622.5" y1="2227.8" x2="622.5" y2="2247.7" stroke="#000" stroke-width="5.6" stroke-linecap="butt"/>
<line x1="801.4" y1="2227.8" x2="801.4" y2="2247.7" stroke="#000" stroke-width="5.6" stroke-linecap="butt"/>
<line x1="980.5" y1="2227.8" x2="980.5" y2="2247.7" stroke="#000" stroke-width="5.6" stroke-linecap="butt"/>
<line x1="1158.4" y1="2227.8" x2="1158.4" y2="2247.7" stroke="#000" stroke-width="5.6" stroke-linecap="butt"/>
<path d="M588.9 2032.0V1808.6H656.0V2169.4" fill="none" stroke="#000" stroke-width="5.5" stroke-linecap="butt" stroke-linejoin="miter"/>
<circle cx="588.9" cy="2032.0" r="2.75" fill="#000"/>
<path d="M767.9 1836.4V1808.6H835.1V2157.0" fill="none" stroke="#000" stroke-width="5.5" stroke-linecap="butt" stroke-linejoin="miter"/>
<circle cx="767.9" cy="1836.4" r="2.75" fill="#000"/>
<circle cx="835.1" cy="2157.0" r="2.75" fill="#000"/>
<path d="M946.9 2044.0V1808.3H1014.1V2171.2" fill="none" stroke="#000" stroke-width="5.5" stroke-linecap="butt" stroke-linejoin="miter"/>
<circle cx="946.9" cy="2044.0" r="2.75" fill="#000"/>
<circle cx="1014.1" cy="2171.2" r="2.75" fill="#000"/>
<path d="M1125.0 1835.1V1808.8H1192.0V2159.7" fill="none" stroke="#000" stroke-width="5.5" stroke-linecap="butt" stroke-linejoin="miter"/>
<circle cx="1125.0" cy="1835.1" r="2.75" fill="#000"/>
<circle cx="1192.0" cy="2159.7" r="2.75" fill="#000"/>
<circle cx="575.4" cy="2068.7" r="9.7" fill="#000"/>
<circle cx="589.0" cy="2059.2" r="9.7" fill="#000"/>
<circle cx="602.4" cy="2066.9" r="9.7" fill="#000"/>
<rect x="633.4" y="2190.3" width="19.4" height="19.4" fill="#000"/>
<rect x="646.2" y="2184.5" width="19.4" height="19.4" fill="#000"/>
<rect x="658.7" y="2190.3" width="19.4" height="19.4" fill="#000"/>
<line x1="744.4" y1="1957.3" x2="790.2" y2="1957.3" stroke="#a98cbf" stroke-width="4.9" stroke-linecap="butt"/>
<line x1="767.7" y1="1875.8" x2="767.7" y2="2039.0" stroke="#000" stroke-width="2.1" stroke-linecap="butt"/>
<line x1="755.2" y1="1875.8" x2="780.2" y2="1875.8" stroke="#000" stroke-width="2.1" stroke-linecap="butt"/>
<line x1="755.2" y1="2039.0" x2="780.2" y2="2039.0" stroke="#000" stroke-width="2.1" stroke-linecap="butt"/>
<circle cx="768.0" cy="1863.9" r="9.7" fill="#000"/>
<circle cx="768.0" cy="1994.4" r="9.7" fill="#000"/>
<circle cx="768.0" cy="2014.7" r="9.7" fill="#000"/>
<line x1="821.6" y1="2199.0" x2="847.6" y2="2199.0" stroke="#a98cbf" stroke-width="4.9" stroke-linecap="butt"/>
<line x1="834.6" y1="2185.4" x2="834.6" y2="2212.7" stroke="#000" stroke-width="2.1" stroke-linecap="butt"/>
<line x1="825.6" y1="2185.4" x2="843.6" y2="2185.4" stroke="#000" stroke-width="2.1" stroke-linecap="butt"/>
<line x1="825.6" y1="2212.7" x2="843.6" y2="2212.7" stroke="#000" stroke-width="2.1" stroke-linecap="butt"/>
<rect x="811.3" y="2180.8" width="19.4" height="19.4" fill="#000"/>
<rect x="837.8" y="2180.8" width="19.4" height="19.4" fill="#000"/>
<rect x="824.9" y="2203.0" width="19.4" height="19.4" fill="#000"/>
<line x1="923.5" y1="2083.5" x2="969.3" y2="2083.5" stroke="#a98cbf" stroke-width="4.9" stroke-linecap="butt"/>
<line x1="946.6" y1="2071.0" x2="946.6" y2="2096.5" stroke="#000" stroke-width="2.1" stroke-linecap="butt"/>
<line x1="934.1" y1="2071.0" x2="959.1" y2="2071.0" stroke="#000" stroke-width="2.1" stroke-linecap="butt"/>
<line x1="934.1" y1="2096.5" x2="959.1" y2="2096.5" stroke="#000" stroke-width="2.1" stroke-linecap="butt"/>
<circle cx="933.2" cy="2074.1" r="9.7" fill="#000"/>
<circle cx="959.6" cy="2079.0" r="9.7" fill="#000"/>
<circle cx="946.9" cy="2098.3" r="9.7" fill="#000"/>
<rect x="990.5" y="2195.0" width="19.4" height="19.4" fill="#000"/>
<rect x="1004.5" y="2189.2" width="19.4" height="19.4" fill="#000"/>
<rect x="1017.3" y="2191.5" width="19.4" height="19.4" fill="#000"/>
<line x1="1102.9" y1="1976.9" x2="1148.7" y2="1976.9" stroke="#a98cbf" stroke-width="4.9" stroke-linecap="butt"/>
<line x1="1125.5" y1="1863.3" x2="1125.5" y2="2089.7" stroke="#000" stroke-width="2.1" stroke-linecap="butt"/>
<line x1="1113.0" y1="1863.3" x2="1138.0" y2="1863.3" stroke="#000" stroke-width="2.1" stroke-linecap="butt"/>
<line x1="1113.0" y1="2089.7" x2="1138.0" y2="2089.7" stroke="#000" stroke-width="2.1" stroke-linecap="butt"/>
<circle cx="1125.0" cy="1899.9" r="9.7" fill="#000"/>
<circle cx="1125.0" cy="1924.1" r="9.7" fill="#000"/>
<circle cx="1125.1" cy="2107.2" r="9.7" fill="#000"/>
<line x1="1169.8" y1="2197.0" x2="1196.5" y2="2197.0" stroke="#b9a5d6" stroke-width="2.2" stroke-linecap="butt"/>
<line x1="1192.5" y1="2187.8" x2="1192.5" y2="2210.0" stroke="#000" stroke-width="2" stroke-linecap="butt"/>
<line x1="1189.0" y1="2187.8" x2="1204.0" y2="2187.8" stroke="#000" stroke-width="2" stroke-linecap="butt"/>
<line x1="1189.0" y1="2210.0" x2="1197.0" y2="2210.0" stroke="#000" stroke-width="2" stroke-linecap="butt"/>
<rect x="1169.7" y="2176.2" width="19.5" height="19.5" fill="#000"/>
<rect x="1169.7" y="2198.1" width="19.5" height="19.5" fill="#000"/>
<rect x="1196.2" y="2191.5" width="19.4" height="19.4" fill="#000"/>
<text x="615.1" y="1798.8" font-family="'DejaVu Sans', sans-serif" font-size="29" font-weight="bold" letter-spacing="0.8" stroke="#000" stroke-width="2.1" stroke-linejoin="miter">*</text>
<text x="770.1" y="1798.8" font-family="'DejaVu Sans', sans-serif" font-size="29" font-weight="bold" letter-spacing="0.8" stroke="#000" stroke-width="2.1" stroke-linejoin="miter">****</text>
<text x="972.8" y="1798.8" font-family="'DejaVu Sans', sans-serif" font-size="29" font-weight="bold" letter-spacing="0.8" stroke="#000" stroke-width="2.1" stroke-linejoin="miter">*</text>
<text x="1135.6" y="1798.8" font-family="'DejaVu Sans', sans-serif" font-size="29" font-weight="bold" letter-spacing="0.8" stroke="#000" stroke-width="2.1" stroke-linejoin="miter">***</text>
<text x="517.3" y="1773.3" font-family="'Liberation Sans', sans-serif" font-size="22" font-weight="bold" text-anchor="end">15000</text>
<text x="517.3" y="1927.2" font-family="'Liberation Sans', sans-serif" font-size="22" font-weight="bold" text-anchor="end">10000</text>
<text x="517.3" y="2081.2" font-family="'Liberation Sans', sans-serif" font-size="22" font-weight="bold" text-anchor="end">5000</text>
<text x="517.3" y="2235.2" font-family="'Liberation Sans', sans-serif" font-size="22" font-weight="bold" text-anchor="end">0</text>
<text x="622.5" y="2273.0" font-family="'Liberation Sans', sans-serif" font-size="22.4" font-weight="bold" text-anchor="middle">VP21/22a</text>
<text x="801.4" y="2273.0" font-family="'Liberation Sans', sans-serif" font-size="22.4" font-weight="bold" text-anchor="middle">pUL25</text>
<text x="980.5" y="2273.0" font-family="'Liberation Sans', sans-serif" font-size="22.4" font-weight="bold" text-anchor="middle">pUL48-VP16</text>
<text x="1158.4" y="2273.0" font-family="'Liberation Sans', sans-serif" font-size="22.4" font-weight="bold" text-anchor="middle">RS1-ICP4</text>
<text x="720.4" y="2305.8" font-family="'Liberation Sans', sans-serif" font-size="22.3" font-weight="bold" text-anchor="start" textLength="342.6" lengthAdjust="spacing">Interference Anti-Capsid Antibody</text>
<text x="434.5" y="2186.8" font-family="'Liberation Sans', sans-serif" font-size="22.4" font-weight="bold" text-anchor="start" transform="rotate(-90 434.5 2186.8)" textLength="373.4" lengthAdjust="spacing">Peptide - HSV1 Capsid Binding (A.U.)</text>
<rect x="1337.2" y="1995.0" width="19.8" height="19.8" fill="#000"/>
<circle cx="1347.1" cy="2067.1" r="10" fill="#000"/>
<text x="0" y="0" font-family="'Liberation Sans', sans-serif" font-size="70.35" transform="translate(2.09 179.80) scale(0.770 1)">A</text>
<text x="0" y="0" font-family="'Liberation Sans', sans-serif" font-size="70.64" transform="translate(805.22 181.40) scale(0.825 1)">B</text>
<text x="0" y="0" font-family="'Liberation Sans', sans-serif" font-size="71.68" transform="translate(1.13 1018.05) scale(0.980 1)">C</text>
<text x="0" y="0" font-family="'Liberation Sans', sans-serif" font-size="70.06" transform="translate(805.40 1017.30) scale(1.027 1)">D</text>
<text x="0" y="0" font-family="'Liberation Sans', sans-serif" font-size="70.64" transform="translate(372.00 1742.00) scale(1.000 1)">E</text>
<text x="1398.6" y="2014.4" font-family="'Liberation Sans', sans-serif" font-size="27.7" font-weight="normal" text-anchor="start" letter-spacing="-0.1">scrLL-37</text>
<text x="1399.2" y="2076.5" font-family="'Liberation Sans', sans-serif" font-size="27.8" font-weight="normal" text-anchor="start">Tau</text>
</svg></body></html>
